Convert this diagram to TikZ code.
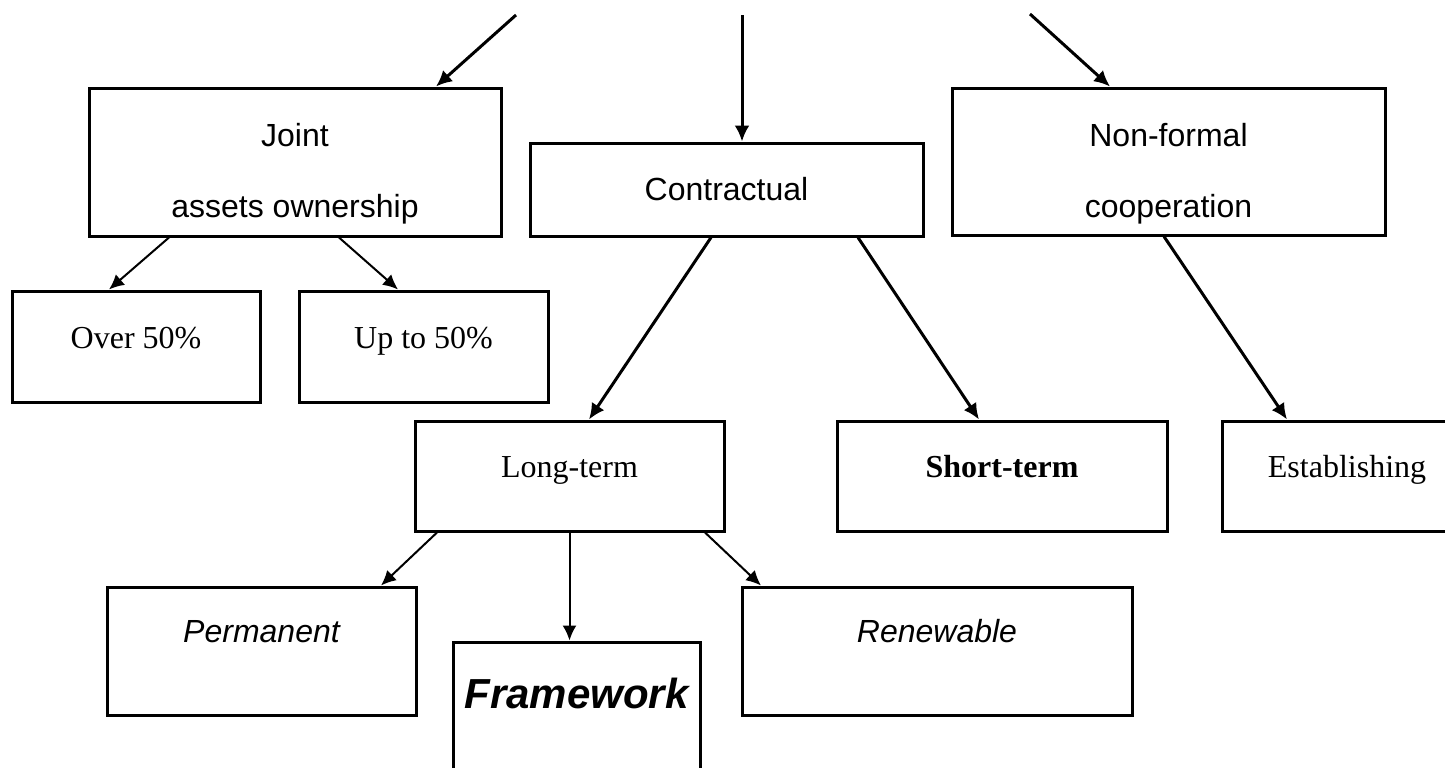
\documentclass[tikz,border=0pt]{standalone}
\usepackage{fontspec}
\setmainfont{Liberation Serif}
\newfontfamily\arialfont{Liberation Sans}
\usetikzlibrary{arrows.meta}
\tikzstyle{line} = [draw, line width=1pt, -{Latex[length=7.5pt,width=7pt]}]
\tikzstyle{heavy} = [draw, line width=1.5pt, -{Latex[length=8pt,width=7.5pt]}]
\tikzstyle{block} = [draw, rectangle, line width=1.5pt, inner sep=0pt, align=center, font=\fontsize{16}{19}\selectfont]
\tikzstyle{sans} = [font=\arialfont\fontsize{16}{19}\selectfont]

\begin{document}
\begin{tikzpicture}[x=0.5pt, y=-0.5pt]
    \useasboundingbox (0,0) rectangle (1445,767);
    % incoming arrows from above
    \coordinate (in1) at (516,15);
    \coordinate (in2) at (742,15);
    \coordinate (in3) at (1030,14);
    % forms of cooperation
    \node[block, sans, minimum width=206pt, text height=64.5pt, text depth=9.5pt] (joint) at (295,162) {Joint\\[16.5pt]assets ownership};
    \node[block, sans, minimum width=196.5pt, text height=28.5pt, text depth=18pt] (contract) at (726.5,189.5) {Contractual};
    \node[block, sans, minimum width=216.5pt, text height=64.5pt, text depth=9pt] (nonformal) at (1168.5,161.5) {Non-formal\\[16.5pt]cooperation};
    % shares
    \node[block, minimum width=124pt, text height=28.5pt, text depth=27pt] (over) at (136,346.5) {Over 50\%};
    \node[block, minimum width=124.5pt, text height=28.5pt, text depth=27pt] (upto) at (423.5,346.5) {Up to 50\%};
    % duration
    \node[block, minimum width=154.5pt, text height=28pt, text depth=27pt] (long) at (569.5,476) {Long-term};
    \node[block, minimum width=165pt, text height=28pt, text depth=27pt] (short) at (1002,476) {\bfseries Short-term};
    \node[block, minimum width=125pt, text height=28pt, text depth=27pt] (establish) at (1347,476) {Establishing};
    % kinds of long-term contracts
    \node[block, sans, minimum width=154.5pt, text height=27.5pt, text depth=36.5pt] (permanent) at (261.5,651) {\itshape Permanent};
    \node[block, minimum width=123.5pt, text height=33pt, text depth=46pt, font=\arialfont\fontsize{21}{25}\selectfont\bfseries\itshape] (frame) at (576.5,721) {Framework};
    \node[block, sans, minimum width=195pt, text height=27.5pt, text depth=36.5pt] (renew) at (937,651) {\itshape Renewable};

    \path[heavy] (in1) -- ([xshift=70.5pt]joint.north);
    \path[heavy] (in2) -- (in2 |- contract.north);
    \path[heavy] (in3) -- ([xshift=-29.25pt]nonformal.north);
    \path[line] ([xshift=-63pt]joint.south) -- ([xshift=-13.5pt]over.north);
    \path[line] ([xshift=22pt]joint.south) -- ([xshift=-12.75pt]upto.north);
    \path[heavy] ([xshift=-7.75pt]contract.south) -- ([xshift=9.75pt]long.north);
    \path[heavy] ([xshift=65.75pt]contract.south) -- ([xshift=-11.5pt]short.north);
    \path[heavy] ([xshift=-2.25pt]nonformal.south) -- ([xshift=-30pt]establish.north);
    \path[line] ([xshift=-66.25pt]long.south) -- ([xshift=59.75pt]permanent.north);
    \path[line] (long.south) -- (long.south |- frame.north);
    \path[line] ([xshift=67.75pt]long.south) -- ([xshift=-88pt]renew.north);
\end{tikzpicture}
\end{document}
